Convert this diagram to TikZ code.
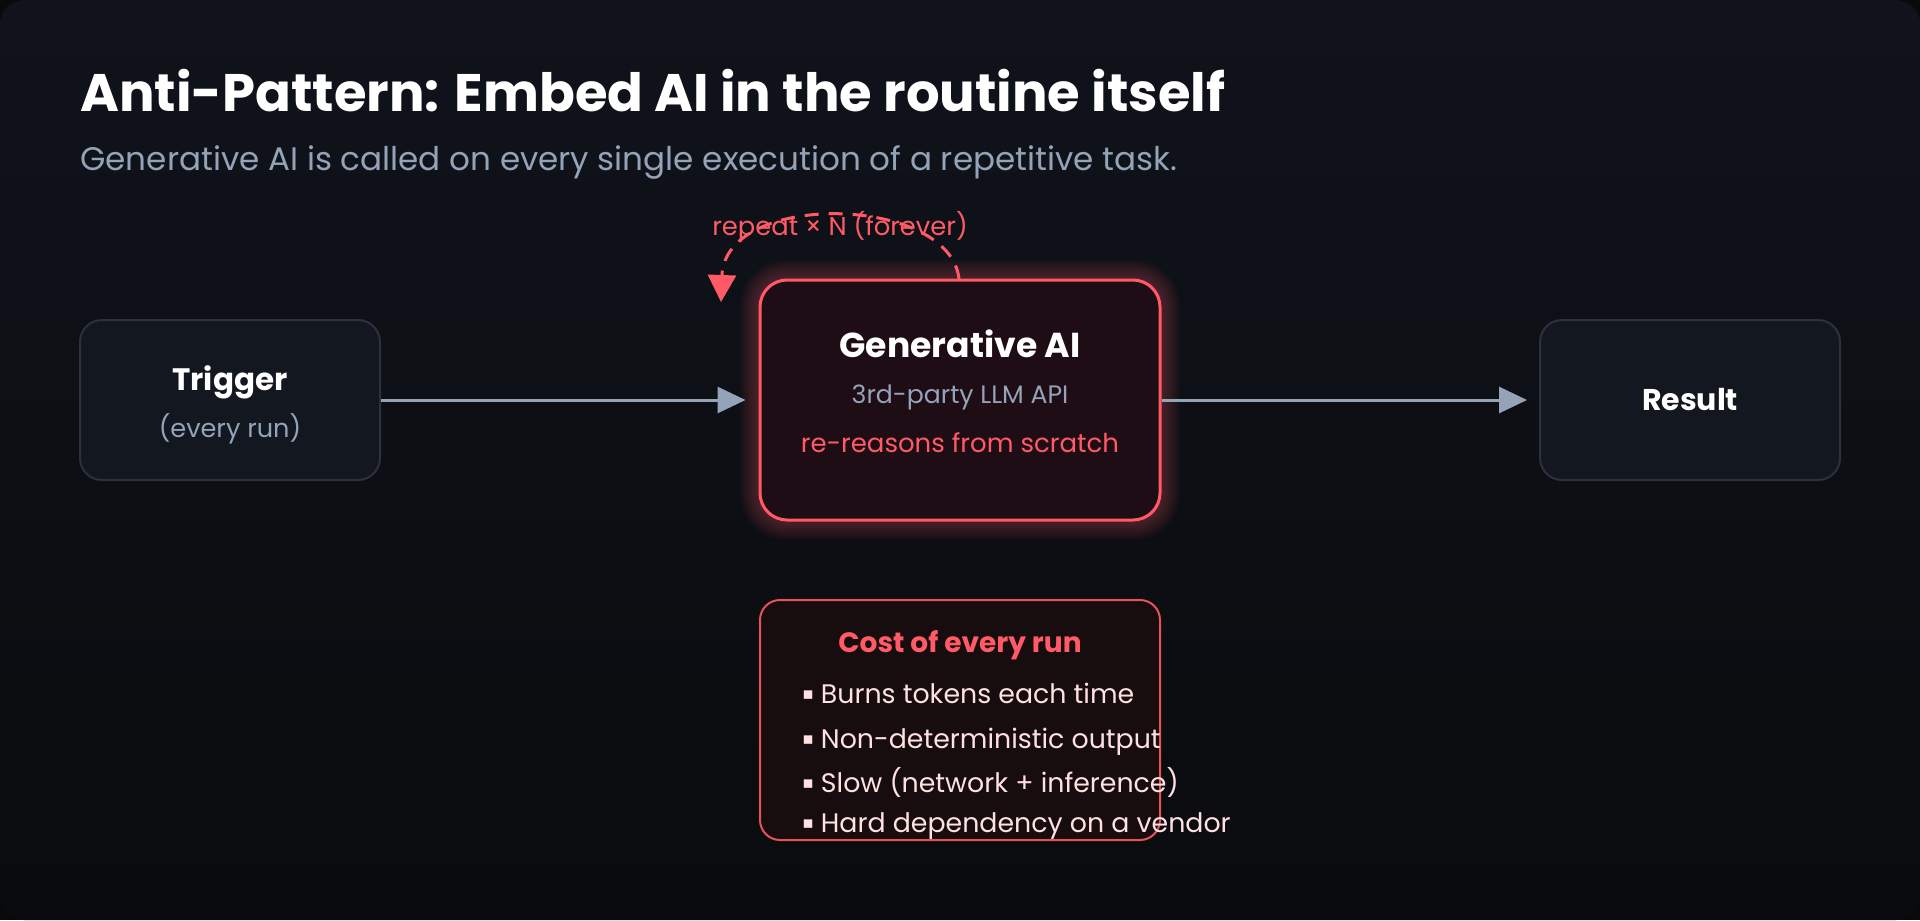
\documentclass[tikz,border=0pt]{standalone}
\usepackage{fontspec}
\setmainfont{Poppins}
\newfontfamily\symf{DejaVu Sans}
\usetikzlibrary{arrows.meta}
\definecolor{outerbg}{HTML}{08090B}
\definecolor{bgtop}{HTML}{10131B}
\definecolor{bgbot}{HTML}{0A0B0E}
\definecolor{boxfill}{HTML}{121720}
\definecolor{boxline}{HTML}{2B323D}
\definecolor{genfill}{HTML}{1E0D15}
\definecolor{accent}{HTML}{FF5A65}
\definecolor{costfill}{HTML}{170C0E}
\definecolor{costline}{HTML}{E8505A}
\definecolor{muted}{HTML}{94A3B8}
\definecolor{pinktext}{HTML}{FFE1E1}
\newcommand{\fsz}[1]{\fontsize{#1}{1.2\dimexpr#1\relax}\selectfont}
\newcommand{\sqb}{\raisebox{1.6pt}{\symf\fontsize{8.5pt}{10pt}\selectfont ▪}\hspace{3.5pt}}
\tikzset{
  plainbox/.style={draw=boxline, fill=boxfill, line width=1pt, rounded corners=11pt, minimum width=150pt, minimum height=80pt},
  genbox/.style={draw=accent, fill=genfill, line width=1.5pt, rounded corners=13.5pt, minimum width=200pt, minimum height=120pt},
  costbox/.style={draw=costline, fill=costfill, line width=1pt, rounded corners=10pt, minimum width=200pt, minimum height=120pt},
  flow/.style={draw=muted, line width=1.5pt, -{Triangle[length=14pt,width=13pt]}},
  loop/.style={draw=accent, line width=1.5pt, dash pattern=on 7pt off 5pt, -{Triangle[length=13.5pt,width=14pt]}},
  txt/.style={inner sep=0pt, anchor=base},
  bul/.style={inner sep=0pt, anchor=base west, text=pinktext},
}
\begin{document}
\begin{tikzpicture}[x=0.5pt,y=-0.5pt]
\useasboundingbox (0,0) rectangle (1920,920);
\fill[outerbg] (0,0) rectangle (1920,920);
\shade[top color=bgtop, bottom color=bgbot, rounded corners=12pt] (0,0) rectangle (1920,920);

% title
\node[inner sep=0pt, anchor=base west, text=white] (title) at (80,112) {\fsz{26.4pt}\bfseries Anti-Pattern: Embed AI in the routine itself};
\node[inner sep=0pt, anchor=base west, text=muted] (subtitle) at (80,170) {\fsz{16.3pt}Generative AI is called on every single execution of a repetitive task.};

% glow
\foreach \i in {1,...,10}{
  \draw[accent, opacity=0.03, line width=\i*2pt, rounded corners=13.5pt] (760,280) rectangle (1160,520);
}

% boxes
\node[plainbox] (trigger) at (230,400) {};
\node[genbox] (gen) at (960,400) {};
\node[plainbox] (result) at (1690,400) {};
\node[costbox] (cost) at (960,720) {};

% box texts
\node[txt, text=white] (triggerT) at (230,390) {\fsz{15.5pt}\bfseries Trigger};
\node[txt, text=muted] (triggerS) at (230,437) {\fsz{12.8pt}(every run)};
\node[txt, text=white] (genT) at (960,357) {\fsz{17.3pt}\bfseries Generative AI};
\node[txt, text=muted] (genS) at (960,403) {\fsz{12.6pt}3rd-party LLM API};
\node[txt, text=accent] (genR) at (960,452) {\fsz{13pt}re-reasons from scratch};
\node[txt, text=white] (resultT) at (1690,410) {\fsz{15pt}\bfseries Result};

% cost texts
\node[txt, text=accent] (costT) at (960,652) {\fsz{14pt}\bfseries Cost of every run};
\node[bul] (b1) at (802,703) {\fsz{13.4pt}\sqb Burns tokens each time};
\node[bul] (b2) at (802,748) {\fsz{13.4pt}\sqb Non-deterministic output};
\node[bul] (b3) at (802,792) {\fsz{13.4pt}\sqb Slow (network + inference)};
\node[bul] (b4) at (802,832) {\fsz{13.4pt}\sqb Hard dependency on a vendor};

% connectors
\draw[flow, shorten >=6.5pt] (trigger.east) -- (gen.west);
\draw[flow, shorten >=6pt] (gen.east) -- (result.west);

\coordinate (loopstart) at (959,279);
\coordinate (loopend) at (721,302);
\draw[loop] (loopstart) .. controls (950,195) and (725,190) .. (loopend);
\node[txt, text=accent] (loopL) at (840,235) {\fsz{12.9pt}repeat × N (forever)};
\end{tikzpicture}
\end{document}
